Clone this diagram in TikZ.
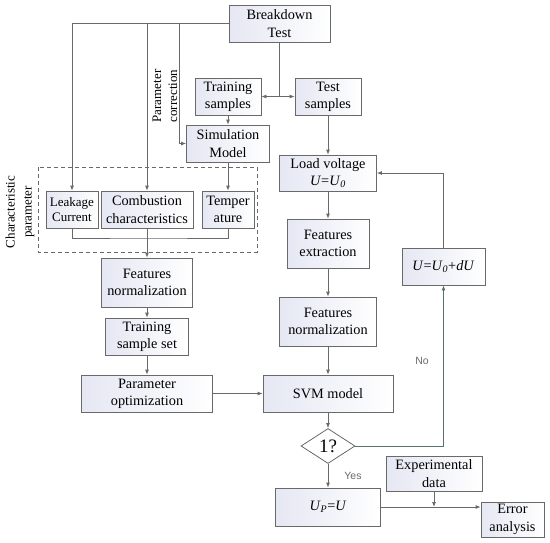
\documentclass[tikz,border=0pt]{standalone}
\usepackage{fontspec}
\setmainfont{Liberation Serif}
\newfontfamily\yesnofont{Liberation Sans}
\usetikzlibrary{shapes,arrows.meta}

\definecolor{linegray}{RGB}{105,105,105}
\definecolor{loopgray}{RGB}{88,112,112}
\definecolor{boxtint}{RGB}{229,231,243}

\tikzset{
  blk/.style={draw=linegray, line width=0.8pt, left color=boxtint, right color=white,
    align=center, inner sep=0pt, minimum height=37pt,
    font=\fontsize{14.3}{17.3}\selectfont},
  cond/.style={diamond, draw=linegray, line width=0.8pt, fill=white, minimum width=54pt,
    minimum height=35pt, inner sep=0pt, font=\fontsize{19}{20}\selectfont},
  wire/.style={draw=linegray, line width=0.8pt},
  flow/.style={wire, -{Latex[length=5pt,width=4pt]}},
  tag/.style={text=linegray, font=\yesnofont\fontsize{10.5}{12}\selectfont},
}

\begin{document}
\begin{tikzpicture}[x=1pt, y=-1pt, node distance=70pt]
    \useasboundingbox (0,0) rectangle (550,542);
    % top of the chart
    \node[blk, minimum width=101pt] (bt) at (279.5,23.5) {Breakdown\\Test};
    \node[blk, minimum width=66pt] (tss) at (328,96.5) {Test\\samples};
    \node[blk, minimum width=66pt] (trs) [left of=tss, node distance=100pt] {Training\\samples};
    \node[blk, minimum width=83pt] (sim) [below of=trs, node distance=47pt] {Simulation\\Model};
    % characteristic parameters
    \node[blk, minimum width=52pt] (tp) [below of=sim, node distance=66pt] {Temper\\ature};
    \node[blk, minimum width=92pt] (cc) [left of=tp, node distance=81pt] {Combustion\\characteristics};
    \node[blk, minimum width=52pt, font=\fontsize{13}{15.5}\selectfont] (lc) [left of=cc, node distance=75pt] {Leakage\\Current};
    \draw[wire, dashed, dash pattern=on 4pt off 3pt] (38,167) rectangle (257,252);
    \node[rotate=90, align=center, font=\fontsize{13}{17}\selectfont] (chp) at (20,212) {Characteristic\\parameter};
    \node[rotate=90, align=center, font=\fontsize{13}{16}\selectfont] (pcor) at (165,96) {Parameter\\correction};
    % training branch
    \node[blk, minimum width=91pt, minimum height=49pt] (fnl) [below of=cc, node distance=73pt] {Features\\normalization};
    \node[blk, minimum width=83pt] (trset) [below of=fnl, node distance=54pt] {Training\\sample set};
    \node[blk, minimum width=131pt] (po) [below of=trset, node distance=57pt] {Parameter\\optimization};
    % test branch
    \node[blk, minimum width=97pt, minimum height=36pt] (lv) [below of=tss, node distance=76.5pt] {Load voltage\\\textit{U}=\textit{U}\textsubscript{\textit{0}}};
    \node[blk, minimum width=82pt, minimum height=49pt] (fe) [below of=lv, node distance=70.5pt] {Features\\extraction};
    \node[blk, minimum width=97pt, minimum height=49pt] (fnr) [below of=fe, node distance=78pt] {Features\\normalization};
    \node[blk, minimum width=130pt] (svm) [below of=fnr, node distance=72pt] {SVM model};
    \node[cond] (dia) [below of=svm, node distance=52.5pt] {1?};
    \node[blk, minimum width=105pt, minimum height=38pt] (up) [below of=dia, node distance=61pt] {\textit{U}\textsubscript{\textit{P}}=\textit{U}};
    \node[blk, minimum width=83pt] (du) at (443.5,266.5) {\textit{U}=\textit{U}\textsubscript{\textit{0}}+\textit{dU}};
    \node[blk, minimum width=96pt, minimum height=35pt] (exp) at (434,473.5) {Experimental\\data};
    \node[blk, minimum width=63pt, minimum height=35pt] (err) at (512.5,519.5) {Error\\analysis};
    \node[tag] (no) at (422,361) {No};
    \node[tag] (yes) at (353,476) {Yes};
    % connectors
    \coordinate (split) at (bt.south |- trs.center);
    \coordinate (pc) at (179,0);
    \coordinate (jn) at (147,238);
    \draw[wire] (bt.south) -- (split);
    \draw[flow] (split) -- (trs.east);
    \draw[flow] (split) -- (tss.west);
    \draw[flow] (bt.west) -| (lc.north);
    \draw[flow] (bt.west -| cc.north) -- (cc.north);
    \draw[flow] (bt.west -| pc) |- (sim.west);
    \draw[flow] (trs.south) -- (trs.south |- sim.north);
    \draw[flow] (sim.south) -- (sim.south |- tp.north);
    \draw[wire] (lc.south) |- (jn) -| (tp.south);
    \draw[flow] (cc.south) -- (fnl.north);
    \draw[flow] (fnl) -- (trset);
    \draw[flow] (trset) -- (po);
    \draw[flow] (po) -- (svm);
    \draw[flow] (tss.south) -- (tss.south |- lv.north);
    \draw[flow] (lv) -- (lv |- fe.north);
    \draw[flow] (fe) -- (fe |- fnr.north);
    \draw[flow] (fnr) -- (fnr |- svm.north);
    \draw[flow] (svm) -- (dia);
    \draw[flow] (dia) -- (up);
    \draw[flow, draw=loopgray] (dia.east) -| (du.south);
    \draw[flow] (du.north) |- (lv.east);
    \draw[flow] (up.east) -- (up.east -| err.west);
    \draw[flow] (exp.south) -- (exp.south |- up.east);
\end{tikzpicture}
\end{document}
